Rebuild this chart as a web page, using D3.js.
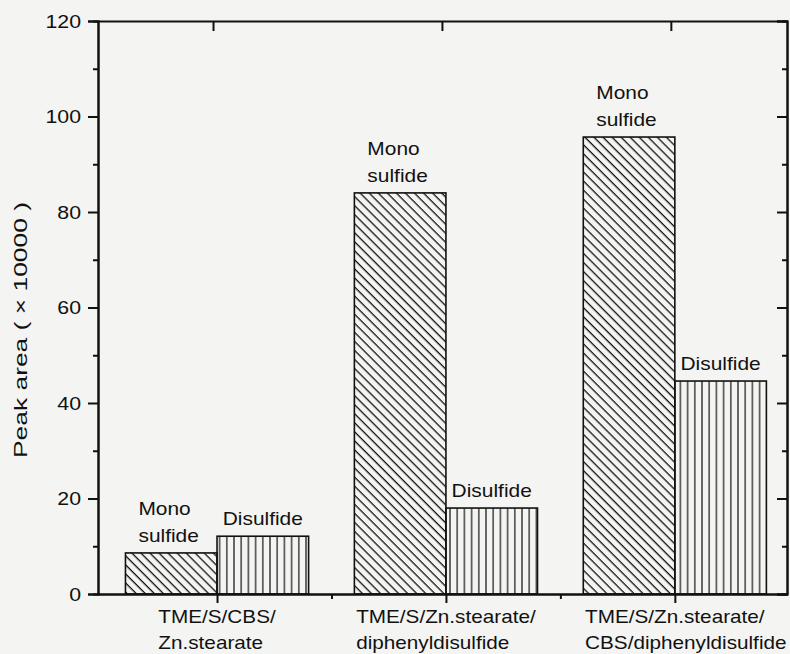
<!DOCTYPE html>
<html>

<head>
    <style>
        body {
            margin: 0;
            background: #f4f4f2;
        }

        svg text {
            font-family: "Liberation Sans", Arial, Helvetica, sans-serif;
            fill: #111;
        }
    </style>
    <script src="https://d3js.org/d3.v7.min.js"></script>
</head>

<body>
    <svg width="790" height="654"></svg>

    <script>

        var categories = [
            ["TME/S/CBS/", "Zn.stearate"],
            ["TME/S/Zn.stearate/", "diphenyldisulfide"],
            ["TME/S/Zn.stearate/", "CBS/diphenyldisulfide"]
        ];
        var monoValues = [8.6, 84.0, 95.7];
        var diValues = [12.1, 18.0, 44.6];
        var yMajor = [0, 20, 40, 60, 80, 100, 120];
        var yMinor = [10, 30, 50, 70, 90, 110];
        var xMinor = [1.5, 2.5];

        var x = d3.scaleLinear().domain([0.48, 3.49]).range([98, 787]);
        var y = d3.scaleLinear().domain([0, 120]).range([594, 21]);
        var barW = 0.4;

        var svg = d3.select("svg");

        // the scanned lettering is a bit wider than Liberation Sans
        function stretch(t, k) {
            var len = t.node().getComputedTextLength();
            t.attr("textLength", len * k).attr("lengthAdjust", "spacingAndGlyphs");
            return len * k;
        }

        // hatch patterns
        var defs = svg.append("defs");
        defs.append("pattern")
            .attr("id", "diag")
            .attr("patternUnits", "userSpaceOnUse")
            .attr("width", 6.4).attr("height", 20)
            .attr("patternTransform", "rotate(-45)")
            .append("line")
            .attr("x1", 3).attr("y1", 0).attr("x2", 3).attr("y2", 20)
            .attr("stroke", "#111").attr("stroke-width", 1.3);
        defs.append("pattern")
            .attr("id", "vert")
            .attr("patternUnits", "userSpaceOnUse")
            .attr("width", 7.2).attr("height", 20)
            .append("line")
            .attr("x1", 3.6).attr("y1", 0).attr("x2", 3.6).attr("y2", 20)
            .attr("stroke", "#111").attr("stroke-width", 1.2);

        var idx = [1, 2, 3];

        // bars
        svg.selectAll(".mono")
            .data(monoValues)
            .enter().append("rect")
            .attr("class", "mono")
            .attr("x", function (d, i) { return x(idx[i] - barW); })
            .attr("y", function (d) { return y(d); })
            .attr("width", x(barW) - x(0))
            .attr("height", function (d) { return y(0) - y(d); })
            .attr("fill", "url(#diag)")
            .attr("stroke", "#111")
            .attr("stroke-width", 1.6);

        svg.selectAll(".di")
            .data(diValues)
            .enter().append("rect")
            .attr("class", "di")
            .attr("x", function (d, i) { return x(idx[i]); })
            .attr("y", function (d) { return y(d); })
            .attr("width", x(barW) - x(0))
            .attr("height", function (d) { return y(0) - y(d); })
            .attr("fill", "url(#vert)")
            .attr("stroke", "#111")
            .attr("stroke-width", 1.6);

        // bar labels
        monoValues.forEach(function (d, i) {
            var left = x(idx[i] - barW) + 13;
            var t1 = svg.append("text")
                .attr("x", left).attr("y", y(d) - 38)
                .style("font-size", "19px")
                .text("Mono");
            stretch(t1, 1.1);
            var t2 = svg.append("text")
                .attr("x", left).attr("y", y(d) - 11)
                .style("font-size", "19px")
                .text("sulfide");
            stretch(t2, 1.1);
        });

        diValues.forEach(function (d, i) {
            var t = svg.append("text")
                .attr("x", x(idx[i] + barW / 2)).attr("y", y(d) - 11)
                .attr("text-anchor", "middle")
                .style("font-size", "19px")
                .text("Disulfide");
            stretch(t, 1.1);
        });

        // axes
        function styleAxis(g) {
            g.select(".domain").attr("stroke", "#111").attr("stroke-width", 2);
            g.selectAll(".tick line").attr("stroke", "#111").attr("stroke-width", 2);
        }

        var leftAxis = svg.append("g")
            .attr("transform", "translate(98,0)")
            .call(d3.axisLeft(y).tickValues(yMajor).tickSize(10).tickPadding(7));
        styleAxis(leftAxis);
        leftAxis.selectAll("text").style("font-size", "19px").attr("fill", "#111")
            .each(function () { stretch(d3.select(this), 1.12); });

        svg.append("g")
            .attr("transform", "translate(98,0)")
            .call(d3.axisLeft(y).tickValues(yMinor).tickSize(5).tickFormat(""))
            .call(styleAxis);

        svg.append("g")
            .attr("transform", "translate(787,0)")
            .call(d3.axisLeft(y).tickValues(yMajor).tickSize(10).tickFormat(""))
            .call(styleAxis);
        svg.append("g")
            .attr("transform", "translate(787,0)")
            .call(d3.axisLeft(y).tickValues(yMinor).tickSize(5).tickFormat(""))
            .call(styleAxis);

        svg.append("g")
            .attr("transform", "translate(0,21)")
            .call(d3.axisBottom(x).tickValues([]).tickSizeOuter(0))
            .call(styleAxis);
        svg.append("g")
            .attr("transform", "translate(-4,21)")
            .call(d3.axisBottom(x).tickValues(idx).tickSize(10).tickSizeOuter(0).tickFormat(""))
            .call(styleAxis)
            .select(".domain").remove();

        svg.append("g")
            .attr("transform", "translate(0,594)")
            .call(d3.axisBottom(x).tickValues(idx).tickSize(9).tickSizeOuter(0).tickFormat(""))
            .call(styleAxis);
        svg.append("g")
            .attr("transform", "translate(0,594)")
            .call(d3.axisBottom(x).tickValues(xMinor).tickSize(5).tickSizeOuter(0).tickFormat(""))
            .call(styleAxis);

        // category labels: first line centred on the tick, second aligned left with it
        categories.forEach(function (c, i) {
            var cx = x(idx[i]);
            var t1 = svg.append("text")
                .attr("y", 623)
                .style("font-size", "19px")
                .text(c[0]);
            var w = stretch(t1, 1.09);
            var start = Math.min(cx - w / 2, 788 - w);
            t1.attr("x", start);
            var t2 = svg.append("text")
                .attr("x", start).attr("y", 649)
                .style("font-size", "19px")
                .text(c[1]);
            stretch(t2, 1.09);
        });

        // y title
        var title = svg.append("text")
            .attr("transform", "translate(27,330) rotate(-90)")
            .attr("text-anchor", "middle")
            .style("font-size", "19px")
            .text("Peak area ( \u00d7 10000 )");
        title.attr("textLength", 256).attr("lengthAdjust", "spacingAndGlyphs");

    </script>

</body>

</html>
